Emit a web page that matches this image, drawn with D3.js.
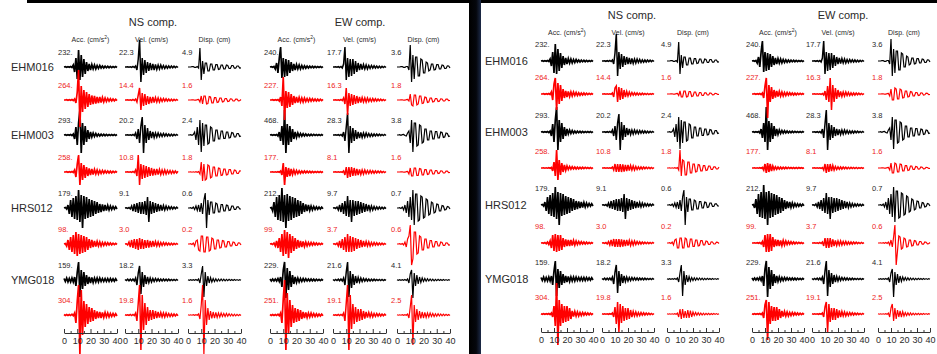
<!DOCTYPE html>
<html><head><meta charset="utf-8">
<script src="https://cdn.jsdelivr.net/npm/d3@7"></script>
<style>
html,body{margin:0;padding:0;background:#fff;}
svg{display:block;font-family:"Liberation Sans",Arial,sans-serif;}
</style></head><body>
<svg id="c" width="937" height="354"></svg>
<script>
// ---------- DATA ----------
const stations = ["EHM016","EHM003","HRS012","YMG018"];
const components = ["NS comp.","EW comp."];
const quantities = ["Acc. (cm/s\u00B2)","Vel. (cm/s)","Disp. (cm)"];
const timeTicks = [0,10,20,30,40];
const times = [0,1,2,3,4,5,6,7,8,9,10,11,12,13,14,15,16,17,18,19,20,21,22,23,24,25,26,27,28,29,30,31,32,33,34,35,36,37,38,39,40];

// peak labels [NS acc, NS vel, NS disp, EW acc, EW vel, EW disp]
const obsPeaks = [
  ["232.","22.3","4.9","240.","17.7","3.6"],
  ["293.","20.2","2.4","468.","28.3","3.8"],
  ["179.","9.1","0.6","212.","9.7","0.7"],
  ["159.","18.2","3.3","229.","21.6","4.1"]
];
const synPeaks = [
  ["264.","14.4","1.6","227.","16.3","1.8"],
  ["258.","10.8","1.8","177.","8.1","1.6"],
  ["98.","3.0","0.2","99.","3.7","0.6"],
  ["304.","19.8","1.6","251.","19.1","2.5"]
];

// observed waveforms (black), relative amplitude, one value per second
const obsEHM016 = [
 [0,0.3,-0.3,0.3,-0.3,0.5,-0.5,2,-5,9,-12,17,-13,12,-10,8,-7,5,-4,3,-3,2.5,-2,2,-2,1.5,-1.5,1.5,-1,1,-1,0.8,-0.8,0.7,-0.7,0.6,-0.6,0.5,-0.5,0.5,-0.5],
 [0,0,0.3,-0.3,0.3,-0.3,0.5,-0.5,1,-3,8,27,-15,9,-8,7,-6,5,-4,4,-3,3,-3,2.5,-2.5,2,-2,2,-1.5,1.5,-1.5,1.2,-1.2,1,-1,1,-0.8,0.8,-0.6,0.6,-0.5],
 [0,0,0,0.3,0.3,-0.3,-0.3,0.5,-1,19,-13,6,-7,4,4,-4,-4,3,3,-3,-3,2.5,2.5,-2.5,-2,2,2,-2,-2,2,1.5,-1.5,-1.5,1.5,1.5,-1.2,-1.2,1,1,-1,-0.8],
 [0,0.3,-0.3,0.5,-2,4,-6,9,20,-11,9,-10,8,-9,7,-6,5,-4,3,-3,2.5,-2,2,-2,1.5,-1.5,1.2,-1.2,1,-1,0.8,-0.8,0.7,-0.7,0.6,-0.6,0.5,-0.5,0.5,-0.5,0.4],
 [0,0,0.3,-0.3,0.3,-0.5,0.5,-1,3,20,-13,9,-10,8,-9,8,-7,6,-5,4,-3,3,-2.5,2.5,-2,2,-2,1.5,-1.5,1.5,-1.2,1.2,-1,1,-1,0.8,-0.8,0.6,-0.6,0.5,-0.5],
 [0,0,0,0.3,0.3,-0.3,-0.3,0.5,0.5,-3,22,-15,12,-12,10,10,-9,-9,8,7,-6,-6,5,4,-4,-3,3,3,-3,-2.5,2.5,2.5,-2,-2,2,1.5,-1.5,-1.5,1.2,1,-1]
];
const obsEHM003 = [
 [0,0.3,-0.3,0.3,-0.3,0.5,-0.5,1,-4,8,-10,12,25,-18,12,-10,9,-7,5,-4,3,-2,2,-1.5,1.5,-1.2,1,-1,0.8,-0.8,0.7,-0.7,0.6,-0.6,0.5,-0.5,0.5,-0.5,0.4,-0.4,0.4],
 [0,0,0.3,-0.3,0.3,-0.3,0.5,-0.5,2,-4,6,-8,9,18,-18,10,-8,7,-5,4,-3,3,-2.5,2,-2,2,-1.5,1.5,-1.5,1.5,-1.2,1.2,-1,1,-1,0.8,-0.8,0.6,-0.6,0.5,-0.5],
 [0,0,0.3,-0.3,0.5,3,-5,8,-10,15,-17,12,-11,10,10,-9,-8,8,7,-6,-6,5,5,-4,-4,4,4,-3.5,-3.5,3,3,-3,-2.5,2.5,2,-2,-2,1.5,1.5,-1.5,-1],
 [0,0.3,-0.3,0.3,-0.3,0.5,-1,3,-6,9,-10,25,-18,11,-10,9,-7,6,-4,3,-2.5,2,-1.5,1.5,-1.2,1.2,-1,1,-0.8,0.8,-0.7,0.7,-0.6,0.6,-0.5,0.5,-0.5,0.4,-0.4,0.4,-0.4],
 [0,0,0.3,-0.3,0.3,-0.5,0.5,-1,3,-6,8,22,-18,9,-8,7,-6,5,-4,3,-3,2.5,-2.5,2,-2,2,-1.5,1.5,-1.5,1.2,-1.2,1,-1,1,-0.8,0.8,-0.6,0.6,-0.5,0.5,-0.5],
 [0,0,0.3,-0.3,0.3,0.5,-0.5,-1,2,4,-8,15,-17,12,12,-11,-10,10,9,-8,-7,6,6,-5,-5,4,4,-4,-4,3.5,3.5,-3,-3,3,2.5,-2.5,-2,2,1.5,-1.5,-1]
];
const obsHRS012 = [
 [0,0.5,-1,3,-6,8,-9,10,-11,12,-12,18,-14,13,-20,12,-11,11,-10,9,-9,8,-8,7,-6,6,-5,4,-4,3.5,-3,3,-2.5,2.5,-2,2,-1.5,1.5,-1.2,1.2,-1],
 [0,0.3,-0.3,0.5,-1,2,-3,4,-4,5,-5,6,-6,6,-6,7,-7,11,-14,7,-6,6,-5,5,-4,4,-3,3,-2.5,2.5,-2,2,-1.5,1.5,-1.2,1.2,-1,1,-0.8,0.8,-0.6],
 [0,0,0.3,-0.5,1,-1.5,2,-2.5,3,-4,5,-6,8,15,-20,8,-7,6,6,-5,-5,5,4,-4,-4,3.5,3.5,-3,-3,3,2.5,-2.5,-2,2,2,-1.5,-1.5,1.2,1.2,-1,-1],
 [0,0.5,-3,6,-9,11,-12,13,-13,20,-14,13,-20,14,-13,12,-12,11,-10,10,-9,8,-8,7,-6,5,-4,3.5,-3,3,-2.5,2,-2,1.5,-1.5,1.2,-1.2,1,-1,0.8,-0.8],
 [0,0.3,-0.5,1,-2,3,-4,5,-6,7,-8,12,-9,8,-14,8,-8,7,-7,7,-6,6,-5,5,-4,4,-3,3,-2.5,2,-2,1.5,-1.5,1.2,-1.2,1,-1,0.8,-0.8,0.6,-0.6],
 [0,0,0.3,-0.5,1,-2,3,-5,7,-9,11,-12,18,-17,14,14,-13,-12,12,11,-10,-9,9,8,-7,-6,6,5,-5,-4,4,3.5,-3,-3,2.5,2,-2,-1.5,1.5,1,-1]
];
const obsYMG018 = [
 [1.5,-1.5,2,-2,1.5,-2,2,-2,3,-6,8,18,-17,10,-9,8,-6,5,-4,3,-3,2.5,-2.5,2,-2,2,-2,2,-1.5,1.5,-1.5,1.5,-1.5,1.5,-1.5,1.5,-1.2,1.2,-1.2,1.2,-1],
 [0.5,-0.5,0.8,-0.8,0.8,-0.8,1,-1,2,-5,7,14,-14,8,-7,5,-4,3,-2.5,2,-2,1.5,-1.5,1.5,-1.2,1.2,-1,1,-1,1,-0.8,0.8,-0.8,0.8,-0.6,0.6,-0.6,0.6,-0.5,0.5,-0.5],
 [0.3,-0.3,0.3,-0.3,0.3,-0.3,0.5,-0.5,1,-3,6,14,-17,8,-6,4,-3,2.5,-2,1.5,-1.5,1.2,-1.2,1,-1,1,-0.8,0.8,-0.8,0.6,-0.6,0.6,-0.5,0.5,-0.5,0.5,-0.4,0.4,-0.4,0.4,-0.3],
 [1,-1,1,-1,1,-1,1.5,-1.5,3,-7,10,18,-18,12,-10,9,-7,5,-4,3,-2.5,2,-2,1.5,-1.5,1.5,-1.2,1.2,-1,1,-1,1,-0.8,0.8,-0.8,0.8,-0.6,0.6,-0.6,0.6,-0.5],
 [0.5,-0.5,0.5,-0.5,0.8,-0.8,1,-1,2,-5,8,18,-17,9,-8,6,-5,4,-3,2.5,-2,2,-1.5,1.5,-1.2,1.2,-1,1,-1,0.8,-0.8,0.8,-0.6,0.6,-0.6,0.5,-0.5,0.5,-0.5,0.4,-0.4],
 [0.3,-0.3,0.3,-0.3,0.3,-0.3,0.5,-0.5,1,-3,6,10,-18,7,-6,5,-4,3,-2.5,2,-1.5,1.5,-1.2,1.2,-1,1,-0.8,0.8,-0.8,0.6,-0.6,0.6,-0.5,0.5,-0.5,0.5,-0.4,0.4,-0.4,0.4,-0.3]
];

// synthetic waveforms, left panel model (red)
const synA_EHM016 = [
 [0,0,0.3,-0.3,0.3,-0.3,0.5,-0.5,1,-3,8,30,-27,14,-12,10,-9,8,-7,6,-5,4.5,-4,4,-3.5,3,-3,3,-2.5,2.5,-2,2,-1.5,1.5,-1.2,1.2,-1,1,-0.8,0.8,-0.6],
 [0,0,0.3,-0.3,0.3,-0.3,0.5,-0.5,1,-2,5,12,-10,7,-6,6,-5,4,-4,3,-3,3,-2.5,2.5,-2,2,-2,1.5,-1.5,1.5,-1.2,1.2,-1,1,-1,0.8,-0.8,0.6,-0.6,0.5,-0.5],
 [0,0,0,0.2,0.2,-0.2,-0.2,0.3,0.5,-2,4,-4,4,4,-4,-3.5,3.5,3,-3,-3,2.5,2.5,-2.5,-2,2,2,-2,-1.5,1.5,1.5,-1.5,-1.2,1.2,1,-1,-1,0.8,0.8,-0.8,-0.6,0.5],
 [0,0,0.3,-0.3,0.3,-0.3,0.5,-1,3,-6,23,-20,9,-8,8,-7,6,-5,4,-3,3,-2.5,2.5,-2,2,-2,2,-1.5,1.5,-1.5,1.5,-1.2,1.2,-1,1,-1,0.8,-0.8,0.8,-0.6,0.6],
 [0,0,0.3,-0.3,0.3,-0.3,0.5,-0.5,2,-4,12,-15,7,-6,6,-5,5,-4,4,-3,3,-2.5,2.5,-2,2,-2,2,-1.5,1.5,-1.5,1.5,-1.2,1.2,-1,1,-0.8,0.8,-0.6,0.6,-0.5,0.5],
 [0,0,0,0.2,0.2,-0.2,-0.2,0.3,0.5,-1,6,-5,-6,5,5,-5,-4,4,4,-3.5,-3,3,2.5,-2.5,-2,2,2,-2,-1.5,1.5,1.5,-1.5,-1.2,1.2,1,-1,-1,0.8,0.8,-0.6,-0.5]
];
const synA_EHM003 = [
 [0,0,0.3,-0.3,0.3,-0.3,0.5,-0.5,2,-5,8,17,-13,9,-8,7,-6,5,-4,3.5,-3,3,-2.5,2.5,-2,2,-2,1.5,-1.5,1.5,-1.2,1.2,-1,1,-1,0.8,-0.8,0.8,-0.6,0.6,-0.5],
 [0,0,0.3,-0.3,0.3,-0.3,0.5,-0.5,2,-4,17,-13,8,-7,7,-6,6,-5,5,-4,4,-3.5,3,-3,3,-2.5,2.5,-2.5,2,-2,2,-2,1.5,-1.5,1.5,-1.5,1.2,-1.2,1,-1,0.8],
 [0,0,0.2,-0.2,0.2,-0.2,0.3,-0.3,0.5,-2,10,-9,8,-8,-7,7,6,-6,-5,5,5,-4,-4,4,3.5,-3.5,-3,3,3,-3,-2.5,2.5,2.5,-2,-2,2,1.5,-1.5,-1.5,1.2,1],
 [0,0,0.2,-0.2,0.2,-0.2,0.3,-0.3,1,-3,9,-13,5,-5,4,-4,3,-2.5,2,-2,1.5,-1.5,1.2,-1.2,1,-1,1,-0.8,0.8,-0.8,0.7,-0.7,0.6,-0.6,0.5,-0.5,0.5,-0.4,0.4,-0.4,0.4],
 [0,0,0.2,-0.2,0.2,-0.2,0.3,-0.3,1,-3,5,-6,5,-5,5,-4,4,-3.5,3,-3,2.5,-2.5,2,-2,2,-1.5,1.5,-1.5,1.5,-1.2,1.2,-1.2,1,-1,1,-0.8,0.8,-0.6,0.6,-0.5,0.5],
 [0,0,0,0.2,0.2,-0.2,-0.2,0.3,0.5,-2,4,-4,-4,4,4,-3.5,-3.5,3.5,3,-3,-3,2.5,2.5,-2.5,-2,2,2,-2,-2,1.5,1.5,-1.5,-1.2,1.2,1,-1,-1,0.8,0.8,-0.6,-0.5]
];
const synA_HRS012 = [
 [0,0.5,-2,4,-6,7,-8,9,-10,12,-12,10,-10,9,-9,8,-8,7,-6,5,-4,4,-3,3,-2.5,2.5,-2,2,-2,1.5,-1.5,1.5,-1.2,1.2,-1,1,-0.8,0.8,-0.6,0.6,-0.5],
 [0,0.3,-1,2,-3,4,-4,5,-5,5,-6,6,-5,5,-5,4,-4,4,-3.5,3,-3,3,-2.5,2.5,-2,2,-2,1.5,-1.5,1.5,-1.2,1.2,-1,1,-1,0.8,-0.8,0.6,-0.6,0.5,-0.5],
 [0,0,0.3,-0.5,1,-2,3,4,-6,-7,8,8,-8,-8,7,7,-7,-6,6,5,-5,-5,4,4,-4,-3.5,3.5,3,-3,-3,2.5,2.5,-2,-2,2,1.5,-1.5,-1.5,1.2,1,-1],
 [0,0.3,-0.5,1,-2,3,-4,6,-8,10,-12,14,-10,12,-14,10,-9,8,-7,6,-5,4,-3.5,3,-3,2.5,-2.5,2,-2,1.5,-1.5,1.5,-1.2,1.2,-1,1,-0.8,0.8,-0.6,0.6,-0.5],
 [0,0.3,-0.5,1,-2,3,-4,5,-6,7,-8,10,-8,8,-8,7,-7,6,-5,5,-4,4,-3,3,-2.5,2.5,-2,2,-2,1.5,-1.5,1.5,-1.2,1.2,-1,1,-0.8,0.8,-0.6,0.6,-0.5],
 [0,0,0.3,-0.3,0.5,-1,2,-3,5,8,19,-21,-15,12,12,-10,-9,8,7,-6,-6,5,5,-4,-4,3.5,3.5,-3,-3,2.5,2.5,-2,-2,2,1.5,-1.5,-1.5,1.2,1,-1,-0.8]
];
const synA_YMG018 = [
 [0.5,-0.5,0.5,-0.5,0.5,-0.5,0.8,-0.8,2,-8,14,30,-40,25,-20,14,-12,11,-9,8,-7,7,-6,5,-4,3.5,-3,3,-3,2.5,-2.5,2.5,-2,2,-2,1.5,-1.5,1.5,-1.2,1.2,-1],
 [0.3,-0.3,0.3,-0.3,0.5,-0.5,0.5,-0.5,2,-6,12,30,-35,20,-15,12,-10,8,-6,5,-5,5,-4,4,-3,3,-2.5,2.5,-2,2,-2,2,-1.5,1.5,-1.5,1.2,-1.2,1,-1,0.8,-0.8],
 [0.2,-0.2,0.2,-0.2,0.3,-0.3,0.3,-0.3,1,-4,10,30,-40,15,-10,7,-5,4,-3.5,3,-3,2.5,-2.5,2,-2,2,-1.5,1.5,-1.5,1.5,-1.2,1.2,-1,1,-1,0.8,-0.8,0.6,-0.6,0.5,-0.5],
 [0.5,-0.5,0.5,-0.5,0.5,-0.5,0.8,-0.8,2,-8,16,35,-35,22,-18,15,-12,10,-8,7,-7,6,-6,5,-4,3,-3,2.5,-2.5,2,-2,2,-1.5,1.5,-1.5,1.2,-1.2,1,-1,0.8,-0.8],
 [0.3,-0.3,0.3,-0.3,0.5,-0.5,0.5,-0.5,2,-6,12,30,-35,20,-14,11,-9,8,-7,6,-6,6,-5,4,-3.5,3,-2.5,2.5,-2,2,-2,1.5,-1.5,1.5,-1.2,1.2,-1,1,-0.8,0.8,-0.6],
 [0.2,-0.2,0.2,-0.2,0.3,-0.3,0.3,-0.3,1,-3,8,20,-30,10,-7,6,-5,4,-3.5,3,-3,2.5,-2.5,2,-2,2,-1.5,1.5,-1.5,1.2,-1.2,1.2,-1,1,-0.8,0.8,-0.6,0.6,-0.5,0.5,-0.4]
];

// synthetic waveforms, right panel model (red)
const synB_EHM016 = [
 [0,0,0.3,-0.3,0.3,-0.3,0.5,-0.5,2,-6,10,16,-16,11,-10,9,-7,5,-4,3,-3,2.5,-2.5,2,-2,2,-1.5,1.5,-1.5,1.2,-1.2,1,-1,1,-0.8,0.8,-0.6,0.6,-0.5,0.5,-0.5],
 [0,0,0.2,-0.2,0.2,-0.2,0.3,-0.3,1,-3,6,8,-8,7,-6,6,-5,4,-3,2.5,-2,2,-1.5,1.5,-1.2,1.2,-1,1,-1,0.8,-0.8,0.8,-0.6,0.6,-0.6,0.5,-0.5,0.4,-0.4,0.4,-0.4],
 [0,0,0,0.2,0.2,-0.2,-0.2,0.3,0.5,-1.5,3,-3,-3,3,3,-3,-2.5,2.5,2.5,-2.5,-2,2,2,-2,-2,1.5,1.5,-1.5,-1.5,1.2,1.2,-1,-1,1,0.8,-0.8,-0.6,0.6,0.5,-0.5,-0.4],
 [0,0,0.3,-0.3,0.3,-0.3,0.5,-0.5,1,-4,8,16,-24,9,-8,7,-5,4,-3.5,3,-2.5,2.5,-2,2,-2,1.5,-1.5,1.5,-1.2,1.2,-1,1,-1,0.8,-0.8,0.8,-0.6,0.6,-0.5,0.5,-0.5],
 [0,0,0.2,-0.2,0.2,-0.2,0.3,-0.3,0.5,-1,3,-6,8,-8,16,-16,9,-8,6,-5,4,-3,2.5,-2.5,2,-2,2,-1.5,1.5,-1.5,1.2,-1.2,1,-1,1,-0.8,0.8,-0.6,0.6,-0.5,0.5],
 [0,0,0,0.2,0.2,-0.2,-0.2,0.3,0.5,-2,5,-6,-6,6,5,-5,-5,5,4,-4,-3.5,3,3,-3,-2.5,2.5,2,-2,-2,1.5,1.5,-1.5,-1.2,1.2,1,-1,-0.8,0.8,0.6,-0.6,-0.5]
];
const synB_EHM003 = [
 [0,0,0.2,-0.2,0.2,-0.2,0.3,-0.3,0.5,-3,6,-8,18,-12,8,-7,5,-4,3,-2.5,2,-1.5,1.5,-1.2,1.2,-1,1,-1,0.8,-0.8,0.8,-0.7,0.7,-0.6,0.6,-0.5,0.5,-0.4,0.4,-0.4,0.4],
 [0,0,0.2,-0.2,0.2,-0.2,0.3,-0.3,1,-2,4,-4,4,-4,4,-4,3.5,-3.5,3,-3,3,-2.5,2.5,-2,2,-2,1.5,-1.5,1.2,-1.2,1,-1,1,-0.8,0.8,-0.7,0.7,-0.6,0.6,-0.5,0.5],
 [0,0,0.2,-0.2,0.2,-0.2,0.3,-0.3,0.5,-2,18,-8,8,7,-7,-7,6,6,-5,-5,4,4,-4,-3.5,3.5,3,-3,-3,2.5,2.5,-2.5,-2,2,2,-1.5,-1.5,1.2,1.2,-1,-1,0.8],
 [0,0,0.2,-0.2,0.2,-0.2,0.3,-0.3,0.5,-2,4,-5,5,-4,4,-3,2,-1.5,1.2,-1.2,1,-1,0.8,-0.8,0.8,-0.7,0.7,-0.6,0.6,-0.5,0.5,-0.5,0.5,-0.4,0.4,-0.4,0.4,-0.3,0.3,-0.3,0.3],
 [0,0,0.2,-0.2,0.2,-0.2,0.3,-0.3,0.5,-2,4,-5,4,-4,4,-3,2.5,-2,1.5,-1.5,1.2,-1.2,1,-1,1,-0.8,0.8,-0.8,0.7,-0.7,0.6,-0.6,0.6,-0.5,0.5,-0.5,0.4,-0.4,0.4,-0.4,0.3],
 [0,0,0,0.2,0.2,-0.2,-0.2,0.3,0.5,-2,5,-5,-5,5,4,-4,-4,4,3.5,-3,-3,2.5,2.5,-2.5,-2,2,2,-1.5,-1.5,1.5,1.2,-1.2,-1,1,0.8,-0.8,-0.6,0.6,0.5,-0.5,-0.4]
];
const synB_HRS012 = [
 [0,0.2,-0.3,0.5,-0.8,1,-1.5,2,-5,8,-8,9,-9,8,-8,8,-7,5,-4,3.5,-3,3,-3,3,-2.5,2.5,-2,2,-1.5,1.5,-1.2,1.2,-1,1,-1,0.8,-0.8,0.6,-0.6,0.5,-0.5],
 [0,0.2,-0.3,0.5,-1,1.5,-2,3,-3,4,-4,4,-4,4,-4,3.5,-3.5,3,-3,3,-2.5,2.5,-2.5,2,-2,2,-1.5,1.5,-1.2,1.2,-1,1,-0.8,0.8,-0.7,0.7,-0.6,0.6,-0.5,0.5,-0.4],
 [0,0,0.3,-0.5,1,-2,3,4,-5,-5,5,5,-5,-5,5,4,-4,-4,4,4,-3.5,-3.5,3,3,-3,-2.5,2.5,2.5,-2,-2,2,1.5,-1.5,-1.5,1.2,1,-1,-1,0.8,0.6,-0.5],
 [0,0,0.2,-0.2,0.3,-0.3,0.5,-0.8,1.5,-4,8,-9,9,-9,9,-8,6,-4,3.5,-3,3,-3,2.5,-2.5,2.5,-2,2,-1.5,1.5,-1.2,1.2,-1,1,-0.8,0.8,-0.6,0.6,-0.5,0.5,-0.4,0.4],
 [0,0,0.2,-0.2,0.3,-0.3,0.5,-0.5,1,-3,5,-5,5,-5,5,-4,3.5,-3,2.5,-2.5,2,-2,2,-2,1.5,-1.5,1.5,-1.5,1.2,-1.2,1,-1,1,-0.8,0.8,-0.6,0.6,-0.5,0.5,-0.4,0.4],
 [0,0,0.2,-0.2,0.3,-0.3,0.5,-0.5,1,-2,3,-4,6,18,-22,-8,7,6,-6,-5,5,4,-4,-3.5,3,3,-3,-2.5,2.5,2,-2,-2,1.5,1.5,-1.2,-1.2,1,0.8,-0.8,-0.6,0.5]
];
const synB_YMG018 = [
 [0.3,-0.3,0.3,-0.3,0.3,-0.3,0.5,-0.5,1,-3,8,-12,31,-31,14,-12,10,-9,8,-8,8,-7,6,-5,3,-2.5,2.5,-2,2,-2,1.5,-1.5,1.5,-1.2,1.2,-1,1,-0.8,0.8,-0.6,0.6],
 [0.2,-0.2,0.2,-0.2,0.3,-0.3,0.3,-0.3,1,-3,7,-10,12,-18,10,-9,8,-7,6,-6,6,-5,4,-3,2.5,-2,2,-2,1.5,-1.5,1.5,-1.2,1.2,-1,1,-0.8,0.8,-0.6,0.6,-0.5,0.5],
 [0.2,-0.2,0.2,-0.2,0.2,-0.2,0.3,-0.3,1,-3,5,-5,5,-4,3,-4,4,-4,3.5,-3,2,-1.5,1.5,-1.2,1.2,-1,1,-1,0.8,-0.8,0.7,-0.7,0.6,-0.6,0.5,-0.5,0.5,-0.4,0.4,-0.4,0.3],
 [0.3,-0.3,0.3,-0.3,0.3,-0.3,0.5,-0.5,1,-4,9,14,-26,12,-10,8,-7,7,-7,7,-6,5,-4,3,-2.5,2.5,-2,2,-2,1.5,-1.5,1.5,-1.2,1.2,-1,1,-0.8,0.8,-0.6,0.6,-0.5],
 [0.2,-0.2,0.2,-0.2,0.3,-0.3,0.3,-0.3,1,-3,7,12,-18,10,-8,6,-6,6,-6,5,-4,3.5,-3,2.5,-2,2,-2,1.5,-1.5,1.5,-1.2,1.2,-1,1,-0.8,0.8,-0.6,0.6,-0.5,0.5,-0.4],
 [0.2,-0.2,0.2,-0.2,0.2,-0.2,0.3,-0.3,1,-3,6,10,-7,6,-5,4,-3,3,-3,2.5,-2,1.5,-1.5,1.2,-1.2,1,-1,0.8,-0.8,0.7,-0.7,0.6,-0.6,0.5,-0.5,0.5,-0.4,0.4,-0.4,0.3,-0.3]
];

const observed = [obsEHM016, obsEHM003, obsHRS012, obsYMG018];
const syntheticA = [synA_EHM016, synA_EHM003, synA_HRS012, synA_YMG018];
const syntheticB = [synB_EHM016, synB_EHM003, synB_HRS012, synB_YMG018];

// ---------- LAYOUT ----------
const panels = [
  { syn: syntheticA, colX: [64,125,188,270,333,397], colW: 53,
    obsY: [67,135,208,280], synY: [100,172,244,315],
    stationX: 11, compX: [153,360], compY: 26, headY: 42, labOff: 12,
    axisY: 333, tickLabY: 347 },
  { syn: syntheticB, colX: [541,602,667,752,812,878], colW: 52,
    obsY: [61,132,205,279], synY: [94,168,243,314],
    stationX: 485, compX: [632,843], compY: 19, headY: 35, labOff: 14,
    axisY: 332, tickLabY: 346 }
];
const strokeByQty = [1.7, 1.5, 1.2];

const svg = d3.select("#c");
svg.append("rect").attr("width",937).attr("height",354).attr("fill","#fff");

const defs = svg.append("defs");
const grad = defs.append("linearGradient").attr("id","strip").attr("x1","0").attr("x2","1");
grad.append("stop").attr("offset","0").attr("stop-color","#000");
grad.append("stop").attr("offset","0.6").attr("stop-color","#05070d");
grad.append("stop").attr("offset","1").attr("stop-color","#1c2a48");

// frame decorations (slide borders)
svg.append("rect").attr("x",27).attr("y",0).attr("width",443).attr("height",3).attr("fill","#000");
svg.append("rect").attr("x",470).attr("y",0).attr("width",467).attr("height",3).attr("fill","#000");
svg.append("rect").attr("x",469).attr("y",0).attr("width",12).attr("height",354).attr("fill","url(#strip)");

const textCol = "#2a2a2a", red = "#ff0000";

panels.forEach(p => {
  const g = svg.append("g");
  components.forEach((c,i) => {
    g.append("text").attr("x",p.compX[i]).attr("y",p.compY).attr("text-anchor","middle")
      .attr("font-size",11).attr("fill",textCol).text(c);
  });
  p.colX.forEach((x0,j) => {
    const q = quantities[j % 3];
    const t = g.append("text").attr("x",x0 + p.colW/2).attr("y",p.headY).attr("text-anchor","middle")
      .attr("font-size",7).attr("fill",textCol);
    if (q.indexOf("\u00B2") >= 0) {
      t.append("tspan").text("Acc. (cm/s");
      t.append("tspan").attr("font-size",5).attr("dy",-3).text("2");
      t.append("tspan").attr("dy",3).text(")");
    } else t.text(q);
  });
  const xs = p.colX.map(x0 => d3.scaleLinear().domain([0,40]).range([x0, x0 + p.colW]));
  const drawSet = (dataSet, rowsY, color, peaks) => {
    dataSet.forEach((stationData, s) => {
      const y = d3.scaleLinear().domain([-40,40]).range([rowsY[s] + 40, rowsY[s] - 40]);
      stationData.forEach((wave, j) => {
        const line = d3.line().x((d,i) => xs[j](times[i])).y(d => y(d));
        g.append("path").attr("d", line(wave)).attr("fill","none")
          .attr("stroke",color).attr("stroke-width",strokeByQty[j % 3]).attr("stroke-linejoin","miter");
        g.append("text").attr("x",p.colX[j] - 6).attr("y",rowsY[s] - p.labOff)
          .attr("font-size",7.5).attr("fill", color === red ? "#ee1c1c" : textCol).text(peaks[s][j]);
      });
    });
  };
  drawSet(observed, p.obsY, "#000", obsPeaks);
  drawSet(p.syn, p.synY, red, synPeaks);
  stations.forEach((st,s) => {
    g.append("text").attr("x",p.stationX).attr("y",p.obsY[s] + 4).attr("font-size",11)
      .attr("fill",textCol).text(st);
  });
  xs.forEach(x => {
    const ax = g.append("g").attr("transform",`translate(0,${p.axisY})`)
      .call(d3.axisBottom(x).tickValues(timeTicks).tickSizeInner(-4).tickSizeOuter(0).tickPadding(5).tickFormat(d3.format("d")));
    ax.select(".domain").attr("stroke","#333");
    ax.selectAll(".tick line").attr("stroke","#333");
    ax.selectAll("text").attr("font-size",9).attr("fill",textCol).attr("font-family","Liberation Sans, Arial, sans-serif");
    g.append("g").attr("transform",`translate(0,${p.axisY})`)
      .call(d3.axisBottom(x).tickValues([5,15,25,35]).tickSizeInner(-2).tickSizeOuter(0).tickFormat(""))
      .call(a => { a.select(".domain").remove(); a.selectAll("line").attr("stroke","#333"); });
  });
});
</script>
</body></html>
